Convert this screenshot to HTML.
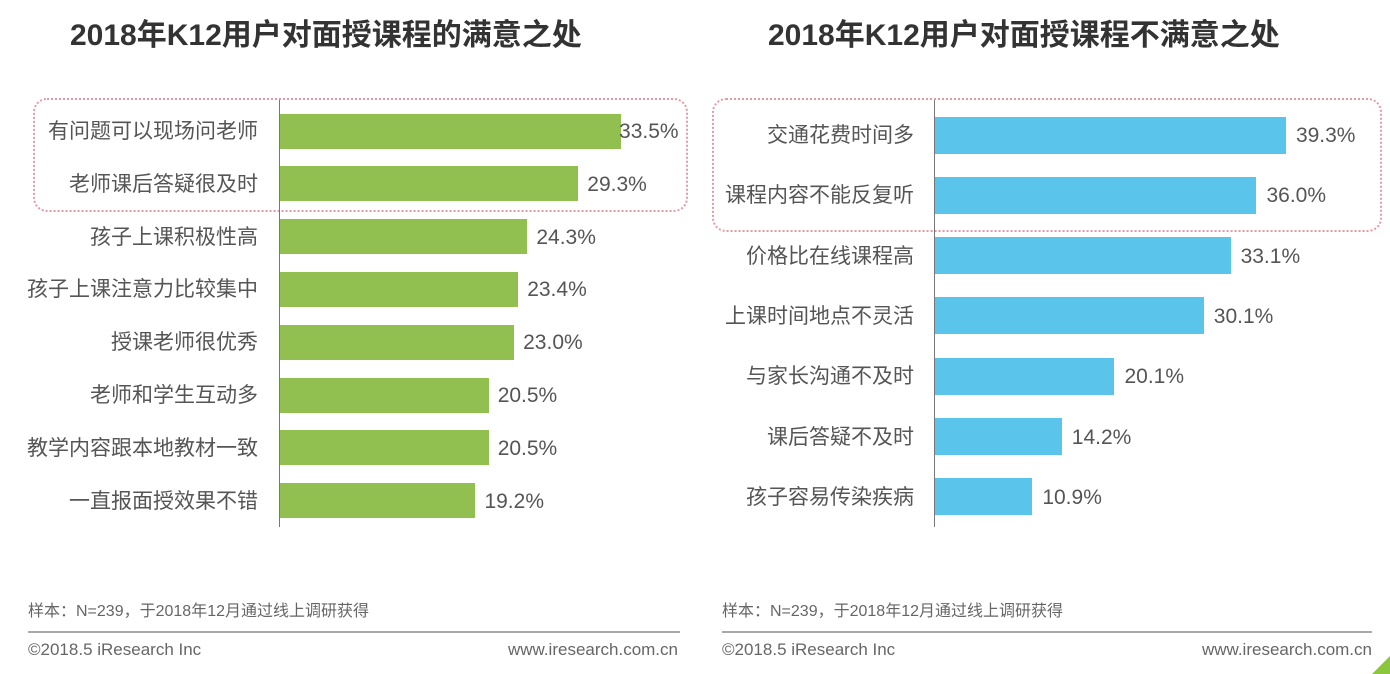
<!DOCTYPE html><html><head><meta charset="utf-8"><style>
body{margin:0;width:1390px;height:674px;background:#fff;overflow:hidden;position:relative;font-family:"Liberation Sans","Noto Sans CJK SC",sans-serif;}
.a{position:absolute;white-space:nowrap;line-height:1}
.t{font-size:30px;font-weight:bold;color:#333;top:21px}
.l{font-size:21px;color:#555;text-align:right}
.v{font-size:21px;color:#555}
.g{background:#92c050;position:absolute;height:35px}
.b{background:#5bc4ea;position:absolute;height:37px}
.ft{font-size:16px;color:#666}
.f2{font-size:17px;color:#666}
</style></head><body>
<div class="a t" style="left:70px">2018年K12用户对面授课程的满意之处</div>
<div class="a t" style="left:768px">2018年K12用户对面授课程不满意之处</div>
<div class="a" style="left:33px;top:98px;width:651px;height:110px;border:2px dotted #e39aa6;border-radius:14px"></div>
<div class="a" style="left:712px;top:98px;width:666px;height:130px;border:2px dotted #e39aa6;border-radius:14px"></div>
<div class="a" style="left:279px;top:100px;width:1px;height:427px;background:#777"></div>
<div class="a" style="left:934px;top:100px;width:1px;height:427px;background:#777"></div>
<div id="L"></div>
<script>
var L=[["有问题可以现场问老师",33.5],["老师课后答疑很及时",29.3],["孩子上课积极性高",24.3],["孩子上课注意力比较集中",23.4],["授课老师很优秀",23.0],["老师和学生互动多",20.5],["教学内容跟本地教材一致",20.5],["一直报面授效果不错",19.2]];
var R=[["交通花费时间多",39.3],["课程内容不能反复听",36.0],["价格比在线课程高",33.1],["上课时间地点不灵活",30.1],["与家长沟通不及时",20.1],["课后答疑不及时",14.2],["孩子容易传染疾病",10.9]];
var h="";
L.forEach(function(d,i){var c=131+i*52.8,w=d[1]*10.18;
h+='<div class="g" style="left:280px;top:'+(c-17.5)+'px;width:'+w+'px"></div>';
h+='<div class="a l" style="right:'+(1390-258)+'px;top:'+(c-10)+'px">'+d[0]+'</div>';
h+='<div class="a v" style="left:'+(283+w+(i==0?-5:6))+'px;top:'+(c-10)+'px">'+d[1].toFixed(1)+'%</div>';});
R.forEach(function(d,i){var c=135+i*60.3,w=d[1]*8.93;
h+='<div class="b" style="left:935px;top:'+(c-18.5)+'px;width:'+w+'px"></div>';
h+='<div class="a l" style="right:'+(1390-914)+'px;top:'+(c-10)+'px">'+d[0]+'</div>';
h+='<div class="a v" style="left:'+(945+w)+'px;top:'+(c-10)+'px">'+d[1].toFixed(1)+'%</div>';});
document.getElementById("L").innerHTML=h;
</script>
<div class="a ft" style="left:28px;top:604px">样本：N=239，于2018年12月通过线上调研获得</div>
<div class="a ft" style="left:722px;top:604px">样本：N=239，于2018年12月通过线上调研获得</div>
<div class="a" style="left:28px;top:631px;width:652px;height:2px;background:#aaa"></div>
<div class="a" style="left:722px;top:631px;width:650px;height:2px;background:#aaa"></div>
<div class="a f2" style="left:28px;top:641px">©2018.5 iResearch Inc</div>
<div class="a f2" style="right:712px;top:641px">www.iresearch.com.cn</div>
<div class="a f2" style="left:722px;top:641px">©2018.5 iResearch Inc</div>
<div class="a f2" style="right:18px;top:641px">www.iresearch.com.cn</div>
<div class="a" style="right:0;bottom:0;width:0;height:0;border-left:18px solid transparent;border-bottom:18px solid #8cc63f"></div>
</body></html>
